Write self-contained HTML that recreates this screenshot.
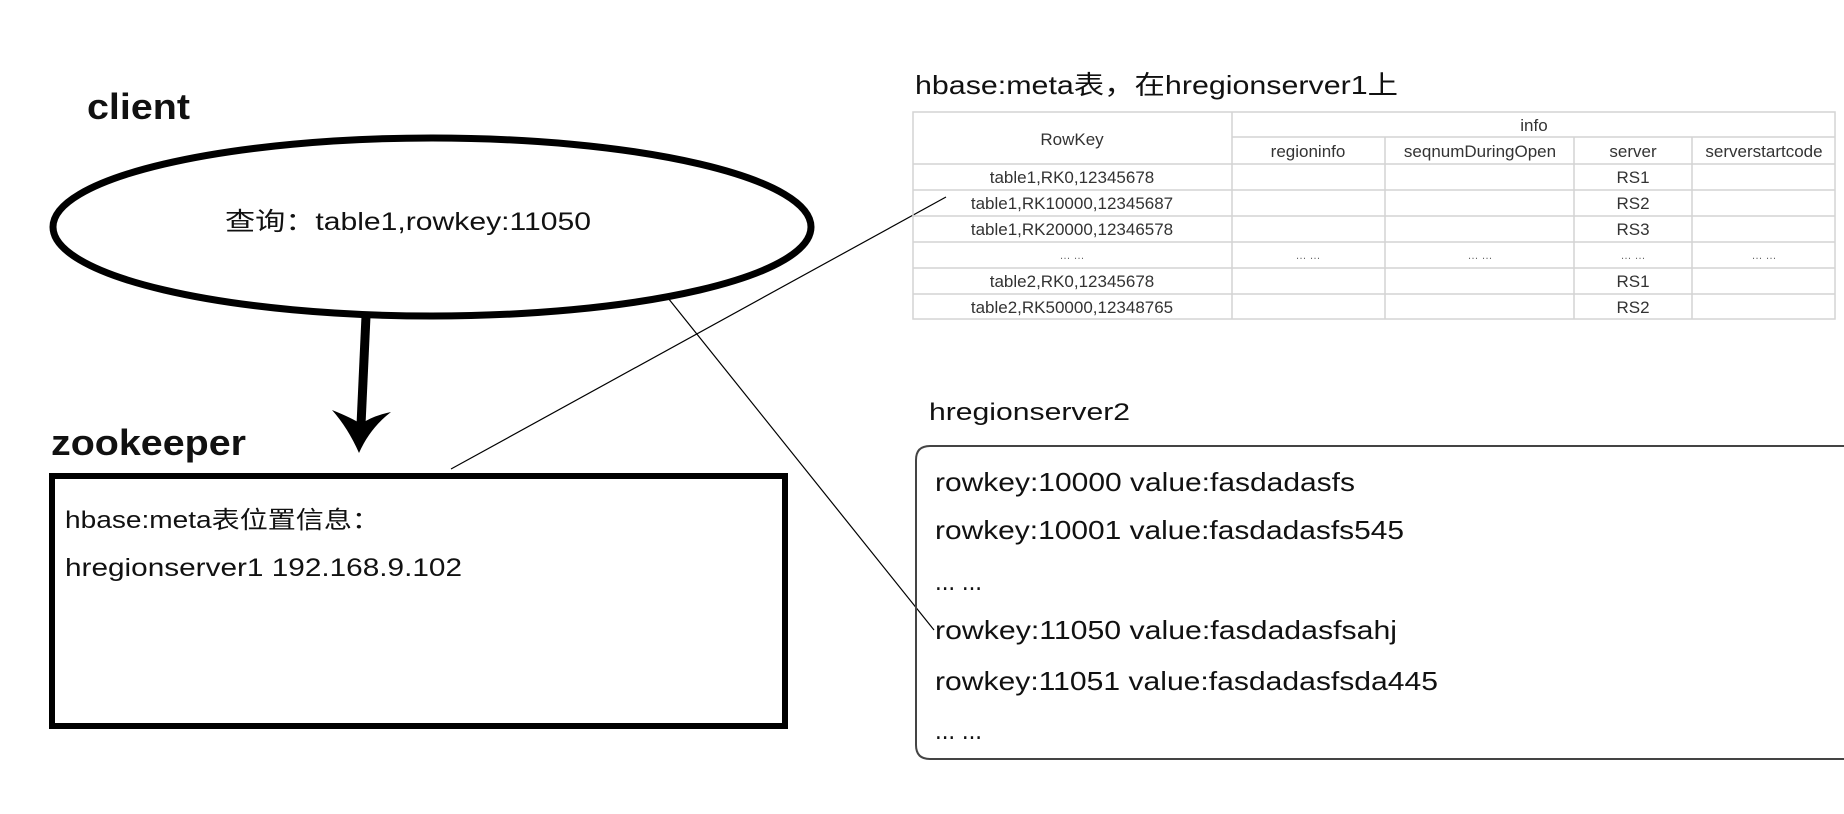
<!DOCTYPE html>
<html><head><meta charset="utf-8"><style>
html,body{margin:0;padding:0;background:#fff;width:1844px;height:814px;overflow:hidden}
svg{display:block}
text{font-family:"Liberation Sans","Noto Sans CJK SC",sans-serif;fill:#111}
.t{font-size:17px;fill:#333;text-anchor:middle}
.d{font-size:11px;fill:#666;text-anchor:middle}
</style></head><body>
<svg width="1844" height="814" viewBox="0 0 1844 814" xmlns="http://www.w3.org/2000/svg">
<!-- client -->
<text x="87" y="119" font-size="36" font-weight="bold" textLength="103" lengthAdjust="spacingAndGlyphs">client</text>
<ellipse cx="432" cy="227" rx="379" ry="89" fill="none" stroke="#000" stroke-width="7"/>
<text x="225" y="230" font-size="25" textLength="366" lengthAdjust="spacingAndGlyphs">查询：table1,rowkey:11050</text>
<!-- arrow -->
<line x1="366" y1="316" x2="361" y2="425" stroke="#000" stroke-width="9"/>
<path d="M332,410 Q352,418 361,424 Q372,416 391,412 Q370,428 359,453 Q348,428 332,410 Z" fill="#000"/>
<!-- zookeeper -->
<text x="51" y="455" font-size="36" font-weight="bold" textLength="195" lengthAdjust="spacingAndGlyphs">zookeeper</text>
<rect x="52" y="476" width="733" height="250" fill="none" stroke="#000" stroke-width="6"/>
<text x="65" y="528" font-size="24" textLength="315" lengthAdjust="spacingAndGlyphs">hbase:meta表位置信息：</text>
<text x="65" y="576" font-size="25" textLength="397" lengthAdjust="spacingAndGlyphs">hregionserver1 192.168.9.102</text>
<!-- connector lines -->
<line x1="451" y1="469" x2="946" y2="197" stroke="#000" stroke-width="1.2"/>
<line x1="668" y1="298" x2="934" y2="630" stroke="#000" stroke-width="1.2"/>
<!-- table title -->
<text x="915" y="94" font-size="26" textLength="483" lengthAdjust="spacingAndGlyphs">hbase:meta表，在hregionserver1上</text>
<!-- table -->
<g stroke="#d4d4d4" stroke-width="1.5" fill="none">
<rect x="913" y="112" width="922" height="207"/>
<line x1="1232" y1="137" x2="1835" y2="137"/>
<line x1="913" y1="164" x2="1835" y2="164"/>
<line x1="913" y1="190" x2="1835" y2="190"/>
<line x1="913" y1="216" x2="1835" y2="216"/>
<line x1="913" y1="242" x2="1835" y2="242"/>
<line x1="913" y1="268" x2="1835" y2="268"/>
<line x1="913" y1="294" x2="1835" y2="294"/>
<line x1="1232" y1="112" x2="1232" y2="319"/>
<line x1="1385" y1="137" x2="1385" y2="319"/>
<line x1="1574" y1="137" x2="1574" y2="319"/>
<line x1="1692" y1="137" x2="1692" y2="319"/>
</g>
<text class="t" x="1072" y="145">RowKey</text>
<text class="t" x="1534" y="131">info</text>
<text class="t" x="1308" y="157">regioninfo</text>
<text class="t" x="1480" y="157">seqnumDuringOpen</text>
<text class="t" x="1633" y="157">server</text>
<text class="t" x="1764" y="157">serverstartcode</text>
<text class="t" x="1072" y="183">table1,RK0,12345678</text>
<text class="t" x="1633" y="183">RS1</text>
<text class="t" x="1072" y="209">table1,RK10000,12345687</text>
<text class="t" x="1633" y="209">RS2</text>
<text class="t" x="1072" y="235">table1,RK20000,12346578</text>
<text class="t" x="1633" y="235">RS3</text>
<text class="d" x="1072" y="259">… …</text>
<text class="d" x="1308" y="259">… …</text>
<text class="d" x="1480" y="259">… …</text>
<text class="d" x="1633" y="259">… …</text>
<text class="d" x="1764" y="259">… …</text>
<text class="t" x="1072" y="287">table2,RK0,12345678</text>
<text class="t" x="1633" y="287">RS1</text>
<text class="t" x="1072" y="313">table2,RK50000,12348765</text>
<text class="t" x="1633" y="313">RS2</text>
<!-- hregionserver2 -->
<text x="929" y="420" font-size="24" textLength="201" lengthAdjust="spacingAndGlyphs">hregionserver2</text>
<path d="M1850,446 L930,446 Q916,446 916,460 L916,745 Q916,759 930,759 L1850,759" fill="none" stroke="#444" stroke-width="2"/>
<text x="935" y="491" font-size="26" textLength="420" lengthAdjust="spacingAndGlyphs">rowkey:10000 value:fasdadasfs</text>
<text x="935" y="539" font-size="26" textLength="469" lengthAdjust="spacingAndGlyphs">rowkey:10001 value:fasdadasfs545</text>
<text x="935" y="590" font-size="26" textLength="47" lengthAdjust="spacingAndGlyphs">... ...</text>
<text x="935" y="639" font-size="26" textLength="462" lengthAdjust="spacingAndGlyphs">rowkey:11050 value:fasdadasfsahj</text>
<text x="935" y="690" font-size="26" textLength="503" lengthAdjust="spacingAndGlyphs">rowkey:11051 value:fasdadasfsda445</text>
<text x="935" y="739" font-size="26" textLength="47" lengthAdjust="spacingAndGlyphs">... ...</text>
</svg>
</body></html>
